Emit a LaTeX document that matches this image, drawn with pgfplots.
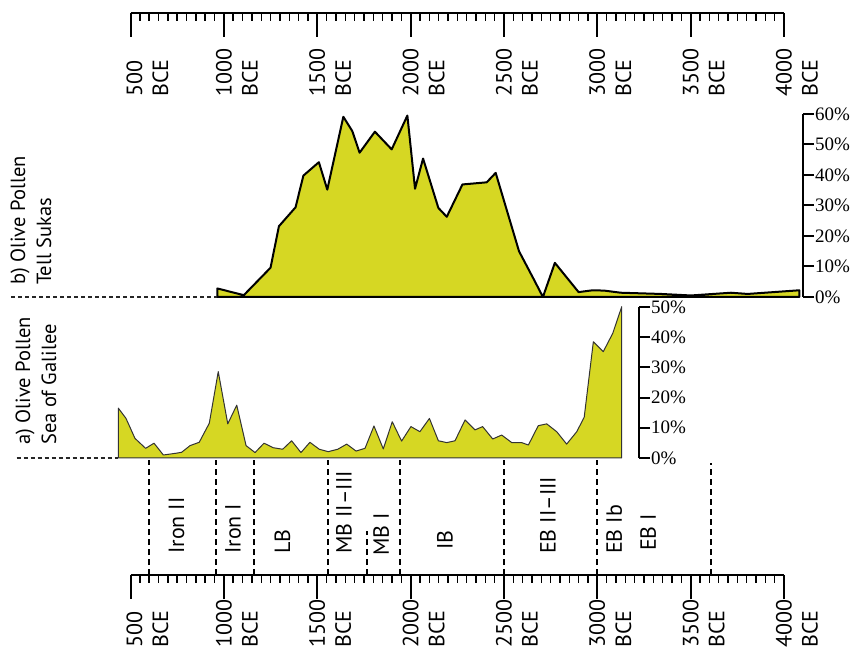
\documentclass[border=0pt]{standalone}
\usepackage{pgfplots}
\pgfplotsset{compat=1.18}
\usepackage{fontspec}
\setmainfont{PT Sans}
\newfontfamily\timesf{Liberation Serif}
\definecolor{olivefill}{RGB}{214,215,35}
\newcommand\lab{\fontsize{22}{26}\selectfont}
\newcommand\sidelab{\fontsize{20.5}{24}\selectfont}
\newcommand\pct{\timesf\fontsize{19}{22}\selectfont}

\pgfplotsset{
  ruler/.style={
    anchor=south west, scale only axis, width=653.5pt,
    xmin=500, xmax=4000,
    hide y axis, axis x line*=bottom,
    axis line style={-, line width=2pt},
    xtick={500,1000,...,4000}, xticklabels={},
    xticklabel style={text opacity=0},
    minor x tick num=9,
    xtick align=outside,
    major tick length=23.5pt, minor tick length=7.5pt,
    major tick style={line width=2pt, black},
    minor tick style={line width=1.4pt, black},
    clip=false,
  },
  panel/.style={
    anchor=south west, scale only axis, xmin=500,
    axis x line=none, axis y line*=right,
    axis line style={-, line width=2pt},
    ytick align=outside, major tick length=11pt,
    major tick style={line width=2pt, black},
    /pgf/number format/assume math mode=true,
    yticklabel={\pgfmathprintnumber{\tick}\%},
    yticklabel style={font=\pct, anchor=west, inner sep=1pt},
    clip=false,
  },
}

\begin{document}
\begin{tikzpicture}[x=1pt,y=1pt]
\useasboundingbox (0,0) rectangle (855,654);

% ---------- top ruler ----------
\begin{axis}[ruler, at={(130.5pt,640.7pt)}, height=10pt, ymin=0, ymax=10]
\addplot[draw=none] coordinates {(500,0) (4000,0)};
\node[rotate=90, anchor=west, inner sep=0pt, font=\lab] at (axis cs:521,-83.7) {500};
\node[rotate=90, anchor=west, inner sep=0pt, font=\lab] at (axis cs:660,-83.7) {BCE};
\pgfplotsinvokeforeach{1000,1500,2000,2500,3000,3500,4000}{
  \node[rotate=90, anchor=west, inner sep=0pt, font=\lab] at (axis cs:#1,-83.7) {#1};
  \node[rotate=90, anchor=west, inner sep=0pt, font=\lab] at (axis cs:#1+139.3,-83.7) {BCE};
}
\end{axis}

% ---------- panel b: Tell Sukas ----------
\begin{axis}[panel, at={(130.5pt,357pt)}, width=672.5pt, height=183pt,
  xmax=4102, ymin=0, ymax=60, ytick={0,10,...,60}]
\addplot[fill=olivefill, draw=black, line width=2pt, line join=round] coordinates {
(965,2.8) (1107,0.6) (1250,9.6) (1295,23.2) (1384,29.4) (1426,39.8)
(1509,44.2) (1554,35.2) (1640,59.1) (1688,54.4) (1727,47.3) (1809,54.2)
(1899,48.4) (1983,59.5) (2024,35.5) (2067,45.4) (2149,29.2) (2194,26.3)
(2278,36.9) (2408,37.6) (2456,40.7) (2581,15.0) (2661,5.7) (2709,0.0)
(2773,11.2) (2900,1.6) (2975,2.2) (3037,2.1) (3126,1.4) (3341,1.0)
(3502,0.5) (3716,1.4) (3805,1.0) (4082,2.2)
} \closedcycle;
\draw[line width=1.2pt, dash pattern=on 4pt off 3pt, black!85] (axis cs:-140,0) -- (axis cs:965,0);
\end{axis}

% ---------- panel a: Sea of Galilee ----------
\begin{axis}[panel, at={(130.5pt,196pt)}, width=508.5pt, height=151pt,
  xmax=3223.5, ymin=0, ymax=50, ytick={0,10,...,50}]
\addplot[fill=olivefill, draw=black!80, line width=1pt, line join=round] coordinates {
(435,16.5) (476,13.1) (524,6.5) (581,3.2) (626,4.9) (676,1.0) (712,1.3)
(747,1.6) (774,1.9) (819,4.1) (868,5.2) (922,11.5) (970,28.6) (1021,11.3)
(1069,17.5) (1119,4.1) (1167,1.8) (1215,4.9) (1265,3.4) (1315,2.9)
(1363,5.7) (1413,1.8) (1461,5.2) (1511,2.9) (1559,2.1) (1610,2.9)
(1658,4.6) (1708,2.3) (1756,3.2) (1804,10.6) (1854,3.0) (1902,12.0)
(1952,5.6) (2002,10.4) (2050,8.7) (2101,13.1) (2149,5.7) (2194,5.1)
(2238,5.7) (2292,12.6) (2345,9.3) (2386,10.4) (2440,6.3) (2488,7.6)
(2542,5.1) (2595,5.1) (2631,4.3) (2684,10.7) (2729,11.3) (2783,8.7)
(2836,4.6) (2890,8.7) (2930,13.5) (2979,38.5) (3032,35.2) (3083,41.3)
(3131,50.1)
} \closedcycle;
\draw[line width=1.2pt, dash pattern=on 4pt off 3pt, black!85] (axis cs:-110,0) -- (axis cs:435,0);
\end{axis}

% ---------- bottom ruler with periods ----------
\begin{axis}[ruler, at={(130.5pt,79pt)}, height=115pt, ymin=0, ymax=115]
\addplot[draw=none] coordinates {(500,0) (4000,0)};
\pgfplotsinvokeforeach{600,960,1160,1558,1945,2500,3000}{
  \draw[line width=2.2pt, dash pattern=on 6pt off 4pt] (axis cs:#1,0) -- (axis cs:#1,115);
}
\draw[line width=2.2pt, dash pattern=on 6pt off 4pt] (axis cs:1765,0) -- (axis cs:1765,44);
\draw[line width=2.2pt, dash pattern=on 6pt off 4pt] (axis cs:3610,0) -- (axis cs:3610,112);
\node[rotate=90, anchor=west, inner sep=0pt, font=\lab] at (axis cs:747,21) {Iron II};
\node[rotate=90, anchor=west, inner sep=0pt, font=\lab] at (axis cs:1049,21) {Iron I};
\node[rotate=90, anchor=west, inner sep=0pt, font=\lab] at (axis cs:1314,21) {LB};
\node[rotate=90, anchor=west, inner sep=0pt, font=\lab] at (axis cs:1643,21) {MB II\textendash III};
\node[rotate=90, anchor=west, inner sep=0pt, font=\lab] at (axis cs:1842,19) {MB I};
\node[rotate=90, anchor=west, inner sep=0pt, font=\lab] at (axis cs:2184,25) {IB};
\node[rotate=90, anchor=west, inner sep=0pt, font=\lab] at (axis cs:2736,21) {EB II\textendash III};
\node[rotate=90, anchor=west, inner sep=0pt, font=\lab] at (axis cs:3090,21) {EB Ib};
\node[rotate=90, anchor=west, inner sep=0pt, font=\lab] at (axis cs:3272,24) {EB I};
\node[rotate=90, anchor=west, inner sep=0pt, font=\lab] at (axis cs:521,-73) {500};
\node[rotate=90, anchor=west, inner sep=0pt, font=\lab] at (axis cs:660,-73) {BCE};
\pgfplotsinvokeforeach{1000,1500,2000,2500,3000,3500,4000}{
  \node[rotate=90, anchor=west, inner sep=0pt, font=\lab] at (axis cs:#1,-73) {#1};
  \node[rotate=90, anchor=west, inner sep=0pt, font=\lab] at (axis cs:#1+139.3,-73) {BCE};
}
\end{axis}

% ---------- side labels ----------
\node[rotate=90, anchor=west, inner sep=0pt, font=\sidelab] at (20,369) {b) Olive Pollen};
\node[rotate=90, anchor=west, inner sep=0pt, font=\sidelab] at (44,369) {Tell Sukas};
\node[rotate=90, anchor=west, inner sep=0pt, font=\sidelab] at (25,209) {a) Olive Pollen};
\node[rotate=90, anchor=west, inner sep=0pt, font=\sidelab] at (49,209) {Sea of Galilee};
\end{tikzpicture}
\end{document}
